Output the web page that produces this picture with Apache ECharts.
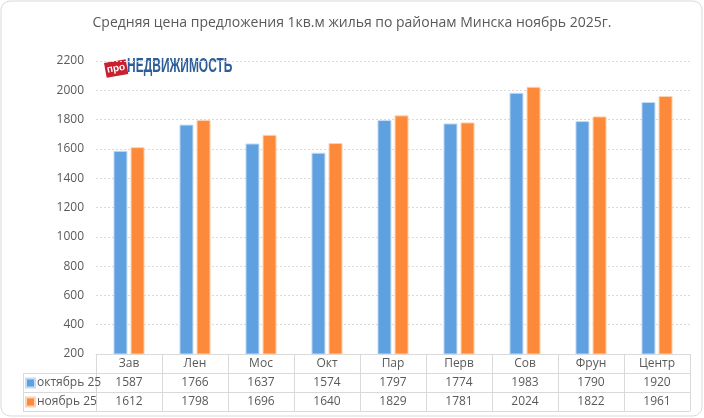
<!DOCTYPE html>
<html>
<head>
<meta charset="utf-8">
<script src="https://cdn.jsdelivr.net/npm/echarts@6/dist/echarts.min.js"></script>
<style>
  html, body { margin: 0; padding: 0; background: #fff; }
  #chart { width: 704px; height: 418px; }
</style>
</head>
<body>
<div id="chart"></div>
<script>
// районы
var districts = ['Зав', 'Лен', 'Мос', 'Окт', 'Пар', 'Перв', 'Сов', 'Фрун', 'Центр'];
// цена за 1 кв.м
var octValues = [1587, 1766, 1637, 1574, 1797, 1774, 1983, 1790, 1920];
var novValues = [1612, 1798, 1696, 1640, 1829, 1781, 2024, 1822, 1961];
var seriesNames = ['октябрь 25', 'ноябрь 25'];
var yTicks = { min: 200, max: 2200, step: 200 };

var textColor = '#595959';
var lineColor = '#d9d9d9';
var font = 'Open Sans';

// таблица под графиком
var gridLeft = 96, gridRight = 14, gridTop = 61, gridBottom = 64;
var rowH = 19;
var tableTop = 418 - gridBottom;
var tableLeft = 23;
var tableRight = 704 - gridRight;

var chart = echarts.init(document.getElementById('chart'));

var tableLines = [];
for (var r = 1; r <= 3; r++) {
  var y = tableTop + rowH * r + 0.5;
  tableLines.push({
    type: 'line',
    shape: { x1: tableLeft, y1: y, x2: tableRight, y2: y },
    style: { stroke: lineColor, lineWidth: 1 }
  });
}
tableLines.push({
  type: 'line',
  shape: { x1: tableLeft + 0.5, y1: tableTop + rowH, x2: tableLeft + 0.5, y2: tableTop + rowH * 3 },
  style: { stroke: lineColor, lineWidth: 1 }
});

// по одной легенде на строку таблицы
var legends = seriesNames.map(function (name, i) {
  return {
    left: tableLeft + 2,
    top: tableTop + rowH * (i + 1) + 4,
    padding: 0,
    itemWidth: 9,
    itemHeight: 9,
    itemGap: 0,
    icon: 'rect',
    selectedMode: false,
    textStyle: { color: textColor, fontSize: 12, fontFamily: font, padding: [0, 0, 0, -3] },
    data: [name]
  };
});

var option = {
  backgroundColor: '#fff',
  animation: false,
  color: ['#5fa0e0', '#fd8a3b'],
  title: {
    text: 'Средняя цена предложения 1кв.м жилья по районам Минска ноябрь 2025г.',
    left: 'center',
    top: 11,
    textStyle: { color: textColor, fontSize: 14, fontWeight: 'normal', fontFamily: font }
  },
  legend: legends,
  grid: { left: gridLeft, right: gridRight, top: gridTop, bottom: gridBottom, containLabel: false },
  xAxis: {
    type: 'category',
    data: districts,
    axisLine: { show: true, lineStyle: { color: lineColor } },
    axisTick: { show: true, length: rowH * 3, lineStyle: { color: lineColor } },
    axisLabel: {
      margin: 0,
      interval: 0,
      color: textColor,
      fontSize: 12,
      fontFamily: font,
      lineHeight: rowH,
      formatter: function (val, idx) {
        return val + '\n' + octValues[idx] + '\n' + novValues[idx];
      }
    }
  },
  yAxis: {
    type: 'value',
    min: yTicks.min,
    max: yTicks.max,
    interval: yTicks.step,
    axisLine: { show: false },
    axisTick: { show: false },
    axisLabel: {
      color: textColor, fontSize: 12, fontFamily: font, margin: 12,
      formatter: function (v) { return String(v); }
    },
    splitLine: { lineStyle: { color: lineColor, type: [2, 2] } }
  },
  series: [
    {
      name: seriesNames[0],
      type: 'bar',
      data: octValues,
      barWidth: 14,
      barGap: '22%',
      itemStyle: { borderColor: '#c4dcf4', borderWidth: 1 }
    },
    {
      name: seriesNames[1],
      type: 'bar',
      data: novValues,
      barWidth: 14,
      itemStyle: { borderColor: '#fdd2b2', borderWidth: 1 }
    }
  ],
  graphic: [
    {
      type: 'rect',
      shape: { x: 1, y: 1, width: 701, height: 415, r: 9 },
      style: { fill: null, stroke: lineColor, lineWidth: 1 },
      z: 100
    },
    // логотип
    {
      type: 'group',
      left: 104,
      top: 56,
      children: [
        {
          type: 'rect',
          rotation: 0.18,
          originX: 11, originY: 12,
          shape: { x: 0, y: 5, width: 22, height: 15 },
          style: { fill: '#c8202f' }
        },
        {
          type: 'text',
          rotation: 0.18,
          x: 11, y: 12.5,
          style: {
            text: 'про', fill: '#fff', fontSize: 10, fontWeight: 'bold',
            fontFamily: 'Liberation Sans', textAlign: 'center', textVerticalAlign: 'middle'
          }
        },
        {
          type: 'text',
          x: 22, y: 0,
          scaleX: 0.57,
          style: {
            text: 'НЕДВИЖИМОСТЬ', fill: '#2e5d98', fontSize: 21, fontWeight: 'bold',
            fontFamily: 'Liberation Sans'
          }
        }
      ]
    }
  ].concat(tableLines)
};

chart.setOption(option);
</script>
</body>
</html>
